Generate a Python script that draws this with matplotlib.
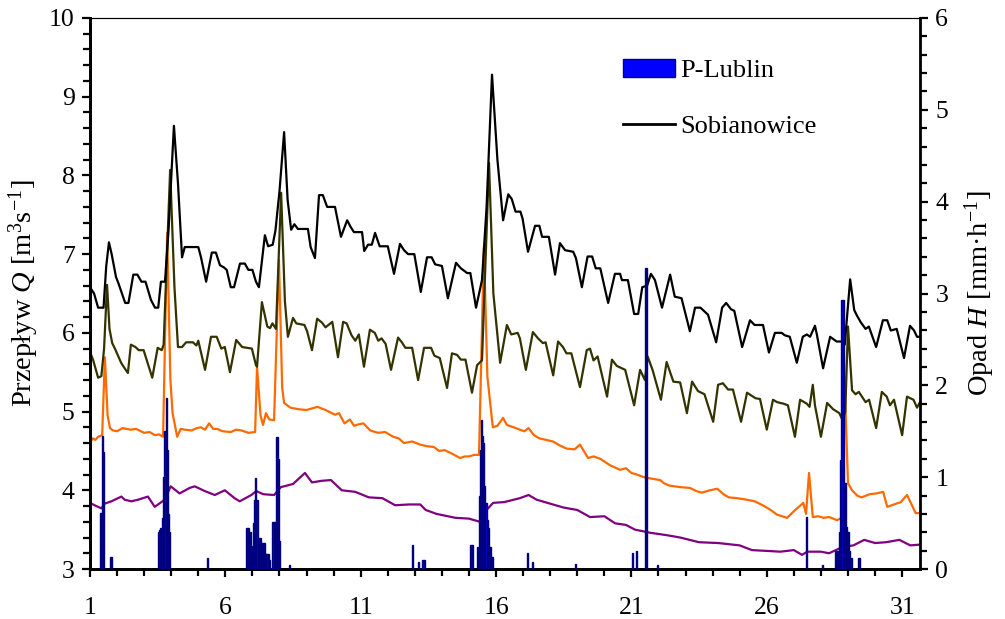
import matplotlib
matplotlib.use("Agg")
import matplotlib.pyplot as plt
from matplotlib.patches import Patch
from matplotlib.lines import Line2D
from matplotlib.ticker import MultipleLocator

plt.rcParams['font.family'] = ['Liberation Serif', 'DejaVu Serif']
plt.rcParams['mathtext.fontset'] = 'custom'
plt.rcParams['mathtext.rm'] = 'Liberation Serif'
plt.rcParams['mathtext.it'] = 'Liberation Serif:italic'

# ---- data (day of month, discharge Q [m3/s]) ----
sob_day = [1.00, 1.15, 1.30, 1.50, 1.60, 1.70, 1.80, 1.96, 2.05, 2.30, 2.42, 2.60, 2.75, 2.90, 3.05, 3.25,
           3.40, 3.52, 3.62, 3.77, 3.90, 4.10, 4.25, 4.40, 4.50, 5.00, 5.10, 5.29, 5.50, 5.65, 5.80, 5.95,
           6.05, 6.20, 6.32, 6.54, 6.72, 6.85, 7.00, 7.13, 7.24, 7.46, 7.58, 7.75, 7.85, 8.00, 8.17, 8.30,
           8.43, 8.55, 8.68, 9.05, 9.15, 9.31, 9.46, 9.60, 9.76, 10.05, 10.27, 10.50, 10.62, 10.75, 11.05,
           11.13, 11.27, 11.41, 11.53, 11.70, 12.00, 12.23, 12.45, 12.60, 12.75, 12.98, 13.22, 13.45, 13.62,
           13.75, 14.00, 14.22, 14.52, 14.70, 14.93, 15.05, 15.26, 15.48, 15.65, 15.85, 16.05, 16.26, 16.45,
           16.58, 16.72, 16.90, 16.98, 17.18, 17.44, 17.60, 17.70, 17.95, 18.18, 18.36, 18.55, 18.85, 18.95,
           19.17, 19.38, 19.55, 19.68, 19.85, 20.14, 20.39, 20.58, 20.65, 20.87, 21.10, 21.25, 21.40, 21.58,
           21.72, 21.87, 22.13, 22.43, 22.60, 22.85, 23.16, 23.35, 23.55, 23.83, 24.13, 24.35, 24.50, 24.68,
           24.80, 25.09, 25.38, 25.55, 25.86, 26.08, 26.30, 26.55, 26.66, 26.85, 27.11, 27.33, 27.48, 27.60,
           27.78, 27.85, 28.08, 28.34, 28.58, 28.78, 28.88, 29.08, 29.23, 29.33, 29.48, 29.65, 29.77, 30.04,
           30.29, 30.45, 30.58, 30.80, 31.07, 31.29, 31.44, 31.55, 31.66]
sob_q = [6.58, 6.50, 6.32, 6.32, 6.85, 7.15, 7.00, 6.71, 6.63, 6.38, 6.38, 6.74, 6.74, 6.65, 6.65, 6.42,
         6.32, 6.32, 6.65, 6.65, 7.30, 8.63, 7.90, 6.96, 7.09, 7.09, 6.96, 6.65, 7.02, 7.02, 6.86, 6.83,
         6.80, 6.58, 6.58, 6.88, 6.88, 6.80, 6.80, 6.65, 6.58, 7.24, 7.10, 7.12, 7.30, 7.80, 8.55, 7.69,
         7.31, 7.38, 7.32, 7.32, 7.09, 6.95, 7.75, 7.75, 7.60, 7.60, 7.22, 7.43, 7.35, 7.28, 7.28,
         7.04, 7.12, 7.12, 7.27, 7.10, 7.10, 6.75, 7.13, 7.05, 7.00, 7.00, 6.52, 6.96, 6.96,
         6.87, 6.85, 6.44, 6.89, 6.82, 6.76, 6.76, 6.32, 6.67, 7.60, 9.28, 8.20, 7.43, 7.76,
         7.70, 7.54, 7.54, 7.45, 7.03, 7.36, 7.36, 7.22, 7.22, 6.74, 7.14, 7.05, 7.03, 6.95,
         6.58, 6.97, 6.97, 6.82, 6.82, 6.38, 6.75, 6.75, 6.67, 6.67, 6.24, 6.24, 6.58, 6.60,
         6.75, 6.67, 6.32, 6.74, 6.46, 6.44, 6.02, 6.32, 6.32, 6.23, 5.88, 6.32, 6.38, 6.30,
         6.28, 5.82, 6.16, 6.10, 6.10, 5.75, 6.00, 6.00, 5.97, 5.95, 5.62, 5.95, 5.98, 5.95,
         6.09, 5.98, 5.55, 5.95, 5.89, 5.89, 5.85, 6.68, 6.29, 6.22, 6.13, 6.05, 6.08, 5.82,
         6.16, 6.16, 6.03, 6.05, 5.68, 6.09, 6.03, 5.95, 5.95]

olive_day = [1.00, 1.12, 1.30, 1.42, 1.52, 1.63, 1.72, 1.82, 1.92, 2.15, 2.28, 2.40, 2.51, 2.68, 2.80, 2.98,
             3.30, 3.50, 3.65, 3.72, 3.96, 4.12, 4.25, 4.40, 4.55, 4.80, 4.93, 5.00, 5.25, 5.47, 5.68, 5.85,
             5.98, 6.17, 6.40, 6.62, 6.98, 7.13, 7.17, 7.35, 7.55, 7.65, 7.74, 7.87, 8.06, 8.20, 8.31, 8.50,
             8.62, 8.92, 9.02, 9.20, 9.39, 9.57, 9.70, 9.95, 10.16, 10.35, 10.48, 10.66, 10.80, 10.93, 11.12,
             11.34, 11.52, 11.65, 11.77, 11.92, 12.12, 12.38, 12.52, 12.65, 12.90, 13.12, 13.34, 13.60, 13.72,
             13.92, 14.19, 14.37, 14.56, 14.70, 14.87, 15.11, 15.30, 15.48, 15.74, 15.90, 16.15, 16.40, 16.56,
             16.80, 16.88, 17.10, 17.36, 17.55, 17.73, 17.83, 18.11, 18.29, 18.47, 18.60, 18.78, 19.10, 19.35,
             19.47, 19.60, 19.75, 20.10, 20.28, 20.46, 20.77, 21.10, 21.32, 21.50, 21.60, 21.78, 22.09, 22.30,
             22.55, 22.80, 23.05, 23.24, 23.46, 23.70, 24.02, 24.20, 24.38, 24.57, 24.75, 25.05, 25.27, 25.58,
             25.75, 26.00, 26.23, 26.38, 26.62, 26.78, 27.04, 27.23, 27.48, 27.58, 27.70, 27.78, 28.00, 28.23,
             28.45, 28.68, 28.80, 28.90, 29.00, 29.15, 29.28, 29.40, 29.65, 29.78, 30.04, 30.25, 30.43, 30.55,
             30.70, 31.00, 31.18, 31.42, 31.55, 31.66]
olive_q = [5.76, 5.65, 5.43, 5.45, 5.80, 6.61, 6.05, 5.87, 5.80, 5.62, 5.55, 5.49, 5.85, 5.82, 5.78, 5.78,
           5.43, 5.81, 5.78, 5.85, 8.07, 6.58, 5.82, 5.82, 5.88, 5.88, 5.84, 5.90, 5.53, 5.95, 5.95, 5.80,
           5.82, 5.50, 5.91, 5.82, 5.80, 5.59, 5.57, 6.39, 6.08, 6.06, 6.12, 6.05, 7.78, 6.40, 5.95, 6.19,
           6.12, 6.10, 6.02, 5.78, 6.18, 6.13, 6.07, 6.14, 5.69, 6.14, 6.12, 5.97, 5.90, 5.98, 5.57,
           6.04, 6.00, 5.90, 5.93, 5.86, 5.53, 5.94, 5.88, 5.81, 5.81, 5.40, 5.81, 5.81, 5.71,
           5.68, 5.30, 5.74, 5.72, 5.66, 5.66, 5.24, 5.59, 5.65, 8.16, 6.50, 5.62, 6.10, 5.98,
           6.00, 5.93, 5.53, 6.01, 5.93, 5.87, 5.88, 5.46, 5.89, 5.82, 5.74, 5.74, 5.31, 5.78,
           5.80, 5.65, 5.70, 5.19, 5.66, 5.58, 5.53, 5.08, 5.53, 5.40, 5.70, 5.53, 5.15, 5.63,
           5.38, 5.37, 4.98, 5.38, 5.26, 5.22, 4.87, 5.34, 5.36, 5.28, 5.28, 4.87, 5.24, 5.17,
           5.16, 4.77, 5.15, 5.12, 5.10, 5.08, 4.68, 5.15, 5.10, 5.06, 5.34, 5.08, 4.68, 5.11,
           5.03, 4.98, 4.89, 5.00, 6.08, 5.27, 5.22, 5.25, 5.12, 5.15, 4.79, 5.25, 5.19, 5.08,
           5.15, 4.70, 5.19, 5.15, 5.05, 5.12]

orange_day = [1.00, 1.10, 1.20, 1.30, 1.45, 1.55, 1.65, 1.74, 1.85, 2.00, 2.20, 2.50, 2.70, 3.00, 3.20, 3.40,
              3.55, 3.70, 3.85, 3.97, 4.05, 4.22, 4.35, 4.50, 4.75, 4.95, 5.10, 5.25, 5.40, 5.55, 5.70, 5.90,
              6.20, 6.40, 6.60, 6.85, 7.10, 7.17, 7.30, 7.39, 7.50, 7.62, 7.80, 7.98, 8.10, 8.17, 8.40, 8.70,
              9.00, 9.20, 9.40, 9.70, 10.05, 10.20, 10.40, 10.60, 10.75, 10.95, 11.10, 11.35, 11.64, 11.90,
              12.20, 12.40, 12.60, 12.90, 13.20, 13.45, 13.70, 13.90, 14.10, 14.40, 14.67, 14.85, 15.00, 15.20,
              15.37, 15.55, 15.68, 15.88, 16.05, 16.26, 16.40, 16.65, 16.88, 17.05, 17.20, 17.40, 17.60, 17.85,
              18.10, 18.35, 18.60, 18.90, 19.10, 19.40, 19.60, 19.85, 20.20, 20.58, 20.80, 21.00, 21.20, 21.43,
              21.70, 22.06, 22.20, 22.40, 22.80, 23.16, 23.40, 23.60, 23.90, 24.17, 24.40, 24.60, 24.90, 25.27,
              25.55, 25.85, 26.10, 26.38, 26.75, 27.05, 27.35, 27.45, 27.56, 27.70, 27.90, 28.10, 28.30, 28.45,
              28.60, 28.75, 28.85, 29.00, 29.15, 29.35, 29.50, 29.80, 30.05, 30.30, 30.45, 30.70, 30.95, 31.18,
              31.50, 31.66]
orange_q = [4.60, 4.66, 4.64, 4.68, 4.70, 5.69, 4.95, 4.79, 4.76, 4.75, 4.79, 4.77, 4.78, 4.73, 4.74, 4.70,
            4.71, 4.68, 7.27, 5.40, 4.98, 4.68, 4.78, 4.77, 4.76, 4.79, 4.80, 4.77, 4.85, 4.78, 4.78, 4.75,
            4.74, 4.77, 4.76, 4.73, 4.74, 5.57, 4.95, 4.83, 4.98, 4.90, 4.89, 6.93, 5.30, 5.11,
            5.05, 5.03, 5.02, 5.04, 5.06, 5.02, 4.96, 4.98, 4.85, 4.90, 4.82, 4.84, 4.85, 4.76, 4.73, 4.74,
            4.68, 4.66, 4.60, 4.62, 4.58, 4.56, 4.55, 4.50, 4.51, 4.46, 4.41, 4.43, 4.43, 4.45,
            4.45, 7.09, 5.44, 4.80, 4.82, 4.92, 4.83, 4.80, 4.77, 4.75, 4.79, 4.70, 4.66, 4.64,
            4.62, 4.57, 4.53, 4.52, 4.58, 4.41, 4.43, 4.40, 4.32, 4.26, 4.28, 4.22, 4.20, 4.17,
            4.15, 4.13, 4.09, 4.06, 4.04, 4.03, 3.99, 3.97, 4.00, 4.02, 3.95, 3.91, 3.90, 3.88,
            3.86, 3.81, 3.76, 3.69, 3.65, 3.75, 3.84, 3.70, 4.22, 3.66, 3.67, 3.65, 3.66, 3.64,
            3.62, 3.65, 5.65, 4.09, 4.00, 3.93, 3.91, 3.95, 3.96, 3.98, 3.79, 3.82, 3.85, 3.94,
            3.71, 3.71]

purple_day = [1.00, 1.17, 1.42, 1.54, 1.79, 2.16, 2.28, 2.53, 2.77, 3.14, 3.39, 3.76, 3.98, 4.31, 4.68, 4.87,
              5.24, 5.61, 5.98, 6.34, 6.53, 6.96, 7.14, 7.40, 7.80, 8.05, 8.50, 8.94, 9.20, 9.55, 9.90, 10.30,
              10.80, 11.30, 11.80, 12.27, 12.80, 13.20, 13.40, 13.80, 14.50, 15.00, 15.40, 15.65, 15.89, 16.30,
              16.88, 17.20, 17.50, 18.00, 18.50, 19.00, 19.47, 20.00, 20.40, 20.80, 21.13, 21.70, 22.30, 22.80,
              23.50, 24.20, 25.00, 25.45, 26.00, 26.50, 27.00, 27.30, 27.50, 28.00, 28.30, 28.80, 29.20, 29.60,
              30.00, 30.40, 30.90, 31.30, 31.66]
purple_q = [3.84, 3.81, 3.77, 3.83, 3.86, 3.92, 3.88, 3.86, 3.88, 3.92, 3.79, 3.88, 4.05, 3.96, 4.03, 4.05,
            3.99, 3.94, 4.00, 3.90, 3.86, 3.94, 3.99, 3.95, 3.94, 4.04, 4.08, 4.22, 4.10, 4.12, 4.13, 4.00,
            3.98, 3.91, 3.90, 3.81, 3.82, 3.82, 3.75, 3.70, 3.65, 3.64, 3.60, 3.75, 3.84, 3.85,
            3.90, 3.94, 3.88, 3.83, 3.78, 3.75, 3.66, 3.67, 3.58, 3.56, 3.50, 3.46, 3.43, 3.40,
            3.34, 3.33, 3.30, 3.24, 3.23, 3.22, 3.24, 3.18, 3.22, 3.22, 3.20, 3.28, 3.30, 3.37,
            3.33, 3.34, 3.37, 3.30, 3.31]

# rainfall P-Lublin (day, H [mm/h])
rain_day = [1.38, 1.42, 1.46, 1.50, 1.77, 1.81,
            3.52, 3.56, 3.60, 3.65, 3.69, 3.73, 3.77, 3.81, 3.85, 3.90, 3.94,
            5.33,
            6.79, 6.83, 6.87, 6.92, 6.96, 7.00, 7.04, 7.08, 7.12, 7.17, 7.21, 7.25, 7.29, 7.33, 7.37, 7.42,
            7.46, 7.50, 7.54, 7.58, 7.62, 7.76, 7.80, 7.85, 7.89, 7.93, 7.97, 8.01,
            8.37, 12.90, 13.15, 13.30, 13.35,
            15.04, 15.08, 15.13, 15.33, 15.38, 15.42, 15.46, 15.50, 15.54, 15.58, 15.63, 15.67, 15.71, 15.75,
            15.79, 15.83, 15.88,
            17.17, 17.35, 18.95, 21.05, 21.19, 21.53, 21.57, 21.95,
            27.48, 28.05,
            28.53, 28.57, 28.61, 28.65, 28.70, 28.74, 28.78, 28.82, 28.86, 28.90, 28.95, 28.99, 29.03, 29.07,
            29.11, 29.40, 29.44]
rain_h = [0.61, 0.61, 1.45, 1.27, 0.13, 0.13,
          0.40, 0.42, 0.45, 0.40, 0.55, 1.00, 1.50, 1.86, 1.30, 0.60, 0.40,
          0.12,
          0.45, 0.45, 0.45, 0.40, 0.10, 0.25, 0.50, 0.75, 0.99, 0.75, 0.34, 0.34, 0.34, 0.28, 0.28, 0.28,
          0.28, 0.16, 0.16, 0.16, 0.10, 0.51, 0.51, 0.51, 1.44, 1.44, 1.20, 0.30,
          0.04, 0.26, 0.08, 0.10, 0.10,
          0.26, 0.26, 0.26, 0.24, 0.80, 1.30, 1.62, 1.45, 1.37, 0.90, 0.72, 0.53, 0.45, 0.24,
          0.24, 0.13, 0.13,
          0.17, 0.08, 0.05, 0.17, 0.20, 3.28, 3.28, 0.04,
          0.57, 0.04,
          0.20, 0.20, 0.20, 0.20, 0.40, 1.19, 2.93, 2.93, 0.94, 0.94, 0.46, 0.40, 0.40, 0.20,
          0.12, 0.12, 0.12]

x_ticks = [1, 6, 11, 16, 21, 26, 31]

# ---- figure ----
fig = plt.figure(figsize=(10.05, 6.19), dpi=100)
ax = fig.add_axes([90/1005, 1-569/619, (920-90)/1005, (569-18)/619])
ax2 = ax.twinx()

lw = 1.6
ax.plot(purple_day, purple_q, color='#800080', lw=lw, zorder=2)
ax.plot(orange_day, orange_q, color='#FF6A00', lw=lw, zorder=3)
ax.plot(olive_day, olive_q, color='#333300', lw=lw, zorder=4)
ax.plot(sob_day, sob_q, color='black', lw=lw, zorder=5)

ax2.bar(rain_day, rain_h, width=0.042, color='#0000FF', edgecolor='#000080', linewidth=1.0, zorder=3)

ax.set_xlim(1, 31.66)
ax.set_ylim(3, 10)
ax2.set_ylim(0, 6)

ax.set_xticks(x_ticks)
ax.xaxis.set_minor_locator(MultipleLocator(1))
ax.yaxis.set_major_locator(MultipleLocator(1))
ax.yaxis.set_minor_locator(MultipleLocator(0.2))
ax2.yaxis.set_major_locator(MultipleLocator(1))
ax2.yaxis.set_minor_locator(MultipleLocator(0.2))

fs = 18.5
for a in (ax, ax2):
    a.tick_params(which='major', direction='out', length=6, width=1.6, labelsize=fs, pad=5)
    a.tick_params(which='minor', direction='out', length=5, width=1.6)
ax.tick_params(axis='x', which='both', pad=14, top=False)
ax.tick_params(axis='y', which='both', right=False)

for s in ('left', 'bottom'):
    ax.spines[s].set_linewidth(2.0)
ax2.spines['right'].set_linewidth(2.0)
ax2.spines['left'].set_linewidth(2.0)
ax2.spines['bottom'].set_linewidth(2.0)
ax.spines['top'].set_linewidth(0.8)
ax2.spines['top'].set_linewidth(0.8)

ax.set_ylabel('Przepływ $Q$ [m$^3$s$^{-1}$]', fontsize=20.5, labelpad=6)
ax2.set_ylabel('Opad $H$ [mm·h$^{-1}$]', fontsize=20.5, labelpad=10)

handles = [Patch(facecolor='#0000FF', edgecolor='#000080', linewidth=1.0),
           Line2D([0], [0], color='black', lw=2)]
fig.legend(handles, ['P-Lublin', 'Sobianowice'], loc='upper left',
           bbox_to_anchor=(612/1005, 1-48/619), frameon=False, fontsize=19,
           handlelength=2.0, handletextpad=0.2, labelspacing=1.25, borderaxespad=0)

fig.savefig('out.png', dpi=100)
